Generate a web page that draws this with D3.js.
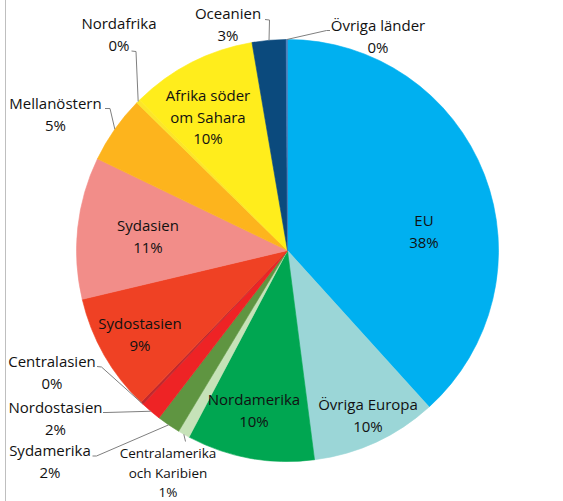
<!DOCTYPE html>
<html>
<head>
<meta charset="utf-8">
<script src="https://cdn.jsdelivr.net/npm/d3@7"></script>
<style>
  body { margin: 0; background: #fff; }
  text { font-family: "Open Sans", sans-serif; fill: #111; }
</style>
</head>
<body>
<div id="chart"></div>
<script>
// Data
var regions = ["EU", "Övriga Europa", "Nordamerika", "Centralamerika och Karibien", "Sydamerika",
  "Nordostasien", "Centralasien", "Sydostasien", "Sydasien", "Mellanöstern", "Nordafrika",
  "Afrika söder om Sahara", "Oceanien", "Övriga länder"];
var shares = [38.4, 9.7, 9.8, 0.9, 1.8, 1.6, 0.2, 9.1, 10.9, 5.2, 0.3, 9.7, 2.6, 0.1];
var colors = ["#00b0f0", "#9bd6d7", "#00a651", "#c6e2b8", "#5f9541", "#ee2325", "#c0282d",
  "#ef4124", "#f28d89", "#fdb41d", "#fce629", "#ffed1c", "#0b4a7d", "#4a7ebb"];

// label layout: name lines, centre x, first line y, leader elbow / end (none = inside slice)
var labelLayout = {
  "EU": {lines: ["EU"], x: 424, y: 220},
  "Övriga Europa": {lines: ["Övriga Europa"], x: 368, y: 404},
  "Nordamerika": {lines: ["Nordamerika"], x: 254, y: 399},
  "Centralamerika och Karibien": {lines: ["Centralamerika", "och Karibien"], x: 168, y: 453, small: true, leader: [[185.5, 441.5]]},
  "Sydamerika": {lines: ["Sydamerika"], x: 50, y: 450, leader: [[96.5, 456], [92.5, 456]]},
  "Nordostasien": {lines: ["Nordostasien"], x: 55.5, y: 407, leader: [[106, 412.5], [103, 412.5]]},
  "Centralasien": {lines: ["Centralasien"], x: 52, y: 361, leader: [[101.5, 367], [97, 366.5]]},
  "Sydostasien": {lines: ["Sydostasien"], x: 140, y: 323},
  "Sydasien": {lines: ["Sydasien"], x: 148, y: 225},
  "Mellanöstern": {lines: ["Mellanöstern"], x: 55.5, y: 103, leader: [[110, 108.5], [105, 108.5]]},
  "Nordafrika": {lines: ["Nordafrika"], x: 119, y: 23, leader: [[136, 51.5], [131.5, 51]]},
  "Afrika söder om Sahara": {lines: ["Afrika söder", "om Sahara"], x: 208, y: 95},
  "Oceanien": {lines: ["Oceanien"], x: 228, y: 13, leader: [[269.5, 20], [265, 19.5]]},
  "Övriga länder": {lines: ["Övriga länder"], x: 378, y: 25, leader: [[326.5, 30.5], [330, 30.5]]}
};

var svgWidth = 563;
var svgHeight = 501;
var cx = 287.5, cy = 250.5, radius = 211;

var svg = d3.select("#chart").append("svg").attr("width", svgWidth).attr("height", svgHeight);

// left border of the chart area
svg.append("line").attr("x1", 5.5).attr("x2", 5.5).attr("y1", 0).attr("y2", svgHeight)
  .attr("stroke", "#bfbfbf").attr("stroke-width", 1);

var data = regions.map((r, i) => ({region: r, value: shares[i], color: colors[i]}));
var total = d3.sum(shares);

var pie = d3.pie().value(d => d.value).sort(null);
var arc = d3.arc().innerRadius(0).outerRadius(radius);
var edgeArc = d3.arc().innerRadius(radius).outerRadius(radius);
var arcs = pie(data);

var pieGroup = svg.append("g").attr("transform", `translate(${cx}, ${cy})`);
pieGroup.selectAll("path").data(arcs).enter().append("path")
  .attr("d", arc)
  .attr("fill", d => d.data.color)
  .attr("stroke", d => d.data.color)
  .attr("stroke-width", 0.6);

// leader lines
var leaders = arcs.filter(d => labelLayout[d.data.region].leader);
svg.selectAll("polyline.leader").data(leaders).enter().append("polyline")
  .attr("class", "leader")
  .attr("fill", "none")
  .attr("stroke", "#7f7f7f")
  .attr("stroke-width", 1)
  .attr("points", d => {
    var c = edgeArc.centroid(d);
    var pts = [[c[0] + cx, c[1] + cy]].concat(labelLayout[d.data.region].leader);
    return pts.map(p => p.join(",")).join(" ");
  });

// data labels
var labels = svg.selectAll("text.label").data(arcs).enter().append("text")
  .attr("class", "label")
  .attr("text-anchor", "middle")
  .attr("dominant-baseline", "central")
  .style("font-size", d => labelLayout[d.data.region].small ? "13.5px" : "15px");

labels.each(function(d) {
  var lay = labelLayout[d.data.region];
  var lh = lay.small ? 19.5 : 21.5;
  var lines = lay.lines.concat([Math.round(d.data.value / total * 100) + "%"]);
  var t = d3.select(this);
  lines.forEach((l, i) => {
    t.append("tspan").attr("x", lay.x).attr("y", lay.y + i * lh).text(l);
  });
});
</script>
</body>
</html>
